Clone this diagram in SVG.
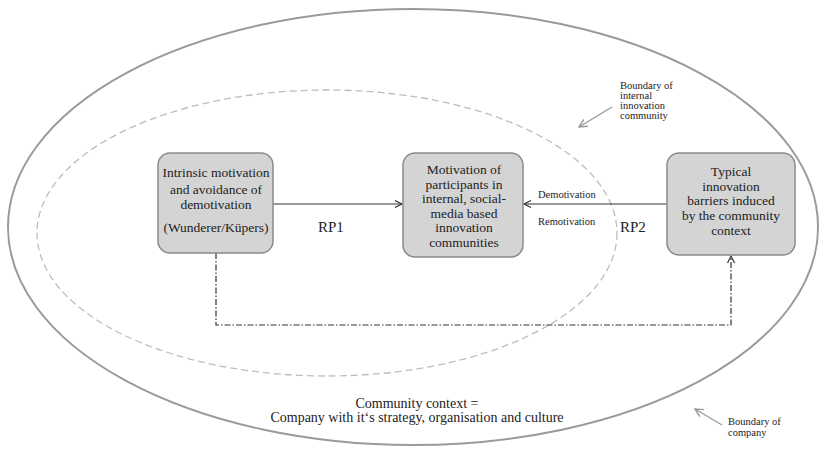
<svg xmlns="http://www.w3.org/2000/svg" width="821" height="456" viewBox="0 0 821 456">
<style>
text{font-family:"Liberation Serif","Times New Roman","DejaVu Serif",serif;fill:#222;}
.box{fill:#d4d4d4;stroke:#8a8a8a;stroke-width:1.5;}
.t{font-size:13.5px;text-anchor:middle;}
.s{font-size:10.5px;}
.conn{stroke:#333;stroke-width:1.2;fill:none;}
.gray{stroke:#999;stroke-width:1.4;fill:none;}
</style>
<defs>
<marker id="ah" markerWidth="10" markerHeight="10" refX="8" refY="4" orient="auto" markerUnits="userSpaceOnUse">
<path d="M1,0.5 L8,4 L1,7.5" fill="none" stroke="#333" stroke-width="1.2"/>
</marker>
<marker id="gh" markerWidth="12" markerHeight="12" refX="9" refY="5" orient="auto" markerUnits="userSpaceOnUse">
<path d="M1,1 L9,5 L1,9" fill="none" stroke="#999" stroke-width="1.4"/>
</marker>
</defs>
<rect width="821" height="456" fill="#fff"/>
<g id="boundaries">
<ellipse cx="413" cy="227" rx="405" ry="218" fill="none" stroke="#9a9a9a" stroke-width="2"/>
<ellipse cx="327" cy="233" rx="290" ry="143" fill="none" stroke="#bdbdbd" stroke-width="1.3" stroke-dasharray="7,4"/>
</g>
<g id="connectors">
<line class="conn" x1="273" y1="204" x2="402" y2="204" marker-end="url(#ah)"/>
<line class="conn" x1="667" y1="204" x2="524" y2="204" marker-end="url(#ah)"/>
<polyline class="conn" points="216,253 216,325 731,325 731,256" stroke-dasharray="6,2,1.5,2" marker-end="url(#ah)"/>
<line class="gray" x1="612" y1="107" x2="579" y2="127" marker-end="url(#gh)"/>
<line class="gray" x1="722" y1="425" x2="695" y2="409" marker-end="url(#gh)"/>
</g>
<g id="node-left">
<rect class="box" x="158" y="153" width="115" height="100" rx="12"/>
<text class="t" x="216" y="177">Intrinsic motivation</text>
<text class="t" x="216" y="194">and avoidance of</text>
<text class="t" x="216" y="209">demotivation</text>
<text class="t" x="216" y="232">(Wunderer/Küpers)</text>
</g>
<g id="node-center">
<rect class="box" x="403" y="153" width="120" height="104" rx="12"/>
<text class="t" x="464" y="174">Motivation of</text>
<text class="t" x="464" y="189">participants in</text>
<text class="t" x="464" y="203">internal, social-</text>
<text class="t" x="464" y="218">media based</text>
<text class="t" x="464" y="232">innovation</text>
<text class="t" x="464" y="247">communities</text>
</g>
<g id="node-right">
<rect class="box" x="667" y="153" width="128" height="102" rx="12"/>
<text class="t" x="731" y="176">Typical</text>
<text class="t" x="731" y="191">innovation</text>
<text class="t" x="731" y="205">barriers induced</text>
<text class="t" x="731" y="220">by the community</text>
<text class="t" x="731" y="235">context</text>
</g>
<g id="labels">
<text x="318" y="232" style="font-size:15px">RP1</text>
<text x="620" y="232" style="font-size:15px">RP2</text>
<text x="538" y="198" class="s">Demotivation</text>
<text x="538" y="225" class="s">Remotivation</text>
<text x="620" y="89" class="s">Boundary of</text>
<text x="620" y="99" class="s">internal</text>
<text x="620" y="109" class="s">innovation</text>
<text x="620" y="119" class="s">community</text>
<text x="728" y="425" class="s">Boundary of</text>
<text x="728" y="436" class="s">company</text>
<text x="417" y="408" class="t" style="font-size:14px">Community context =</text>
<text x="417" y="422" class="t" style="font-size:14px">Company with it‘s strategy, organisation and culture</text>
</g>
</svg>
